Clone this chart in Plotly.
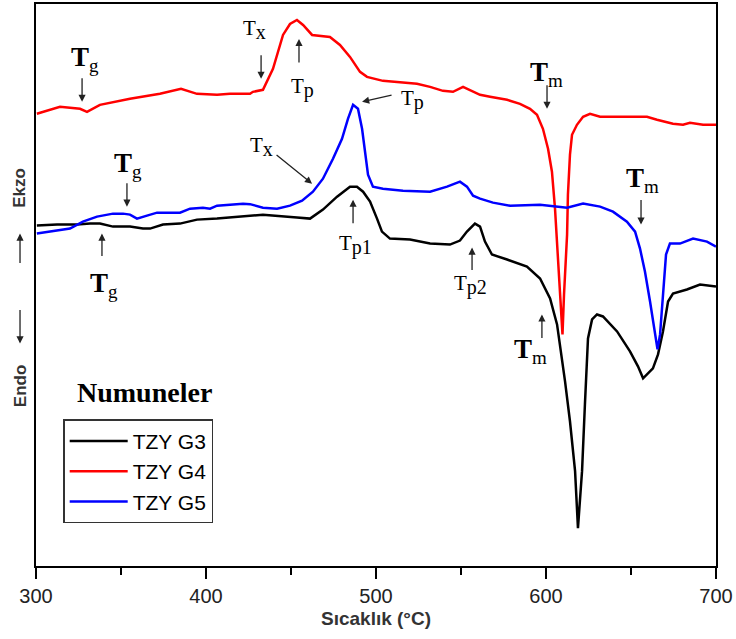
import plotly.graph_objects as go

# DTA curves: temperature (°C) and relative heat-flow signal (arbitrary units)
g3_temp = [300.5, 312.4, 324.1, 331.8, 337.6, 345.3, 355.3, 362.9, 367.1, 374.7, 384.7, 394.7,
           406.5, 421.8, 433.5, 453.5, 461.2, 468.8, 477.1, 484.7, 488.8, 492.4, 496.5, 500.6,
           503.5, 508.2, 520.0, 531.8, 543.5, 549.4, 553.5, 558.2, 561.2, 564.1, 568.2, 577.1,
           588.8, 596.5, 602.4, 606.5, 608.2, 611.2, 614.1, 617.1, 618.8, 621.2, 622.9, 624.7,
           627.1, 630.0, 633.5, 641.8, 649.4, 654.1, 657.1, 662.9, 665.9, 668.8, 671.8, 674.7,
           682.9, 690.6, 700.0]
g3_signal = [34.1, 34.2, 34.2, 34.3, 34.3, 34.0, 34.0, 33.8, 33.8, 34.2, 34.3, 34.7,
             34.8, 35.0, 35.2, 34.9, 34.8, 35.7, 37.0, 38.0, 38.0, 37.5, 36.5, 34.8,
             33.5, 32.8, 32.7, 32.3, 32.2, 32.6, 33.5, 34.3, 34.0, 32.5, 31.2, 30.7,
             30.0, 28.8, 26.8, 24.2, 22.2, 18.5, 14.5, 9.5, 3.8, 9.5, 16.2, 22.8,
             24.7, 25.2, 25.0, 23.5, 21.5, 20.0, 18.8, 19.8, 21.2, 23.5, 26.5, 27.3,
             27.7, 28.2, 28.0]

g4_temp = [300.5, 314.1, 325.9, 330.0, 337.6, 355.3, 372.9, 385.3, 394.7, 406.5, 414.1, 425.9,
           427.6, 433.5, 439.4, 445.3, 449.4, 453.5, 457.1, 462.4, 472.9, 478.8, 484.7, 490.6,
           494.7, 504.1, 524.1, 531.8, 539.4, 545.3, 551.2, 557.1, 561.2, 567.1, 577.1, 584.7,
           590.6, 594.7, 598.2, 601.2, 603.5, 605.3, 607.1, 608.8, 609.7, 610.6, 612.4, 612.9,
           614.1, 615.3, 618.2, 621.8, 625.9, 631.8, 659.4, 665.3, 674.7, 680.6, 684.7, 692.4,
           700.0]
g4_signal = [45.3, 46.0, 45.8, 45.5, 46.2, 46.8, 47.3, 47.8, 47.3, 47.2, 47.3, 47.3,
             47.5, 47.7, 49.8, 53.2, 54.3, 54.7, 54.2, 53.2, 53.0, 52.2, 51.0, 49.5,
             49.0, 48.6, 48.3, 48.0, 47.6, 47.5, 48.0, 47.5, 47.2, 47.0, 46.7, 46.3,
             45.8, 45.2, 43.8, 41.8, 39.5, 35.8, 30.5, 25.5, 23.2, 27.2, 33.2, 37.2,
             41.2, 43.2, 44.2, 45.0, 45.3, 45.0, 45.0, 44.7, 44.3, 44.2, 44.4, 44.2,
             44.2]

g5_temp = [300.5, 312.4, 320.0, 327.6, 335.9, 345.3, 351.2, 355.3, 359.4, 365.3, 371.2, 384.7,
           390.6, 398.2, 402.4, 406.5, 414.1, 421.8, 425.9, 433.5, 441.8, 449.4, 456.5, 462.9,
           468.8, 474.7, 480.0, 483.5, 486.5, 489.4, 491.8, 493.5, 495.3, 498.2, 504.1, 515.9,
           531.8, 541.8, 549.4, 553.5, 557.1, 561.2, 568.8, 578.8, 596.5, 612.4, 621.8, 631.8,
           639.4, 647.6, 652.4, 655.3, 658.2, 661.2, 664.1, 665.6, 667.1, 668.8, 670.6, 672.9,
           678.8, 686.5, 694.7, 700.0]
g5_signal = [33.3, 33.6, 33.8, 34.5, 35.0, 35.3, 35.3, 35.2, 34.8, 35.1, 35.4, 35.4,
             35.8, 35.9, 35.8, 36.1, 36.2, 36.3, 36.25, 35.9, 35.8, 36.1, 36.6, 37.5,
             38.8, 40.8, 42.8, 44.8, 46.2, 45.8, 43.8, 41.5, 39.2, 38.0, 37.8, 37.6,
             37.5, 38.0, 38.5, 38.0, 37.1, 36.8, 36.4, 36.1, 36.2, 35.9, 36.3, 36.0,
             35.5, 34.5, 33.5, 31.8, 29.5, 26.5, 23.2, 21.7, 23.2, 27.2, 31.2, 32.3,
             32.3, 32.8, 32.5, 32.0]

series_names = ["TZY G3", "TZY G4", "TZY G5"]
series_colors = ["#000000", "#ff0000", "#0000ff"]
x_ticks = [300, 400, 500, 600, 700]

SERIF = "Liberation Serif, Times New Roman, serif"
SANS = "Liberation Sans, Arial, sans-serif"

fig = go.Figure()
for name, color, xs, ys in zip(series_names, series_colors,
                               [g3_temp, g4_temp, g5_temp],
                               [g3_signal, g4_signal, g5_signal]):
    fig.add_trace(go.Scatter(x=xs, y=ys, mode="lines", name=name,
                             line=dict(color=color, width=2.5)))


def label(sym, sub, bold=False):
    if bold:
        return f"<b>{sym}</b><sub><span style='font-size:19px'>{sub}</span></sub>"
    return f"{sym}<sub><span style='font-size:20px'>{sub}</span></sub>"


# characteristic temperature labels: (subscript, bold T, x, y, font size)
labels = [
    ("g", True, 328.8, 50.8, 27),
    ("g", True, 354.1, 40.2, 27),
    ("g", True, 340.0, 28.2, 27),
    ("x", False, 428.8, 53.7, 21),
    ("p", False, 456.5, 47.9, 21),
    ("p", False, 521.2, 46.7, 21),
    ("x", False, 432.4, 42.0, 21),
    ("p1", False, 488.2, 32.2, 21),
    ("p2", False, 555.3, 28.2, 21),
    ("m", True, 600.0, 49.3, 27),
    ("m", True, 656.5, 38.7, 27),
    ("m", True, 590.6, 21.5, 27),
]
annotations = []
for sub, bold, x, y, size in labels:
    annotations.append(dict(x=x, y=y, xref="x", yref="y", text=label("T", sub, bold),
                            showarrow=False, font=dict(family=SERIF, size=size, color="#000")))

# pointer arrows: head position and tail offset in px
arrows = [
    (327.1, 46.5, 0, -25), (353.5, 36.0, 0, -25), (338.8, 33.3, 0, 24),
    (432.4, 48.8, 0, -25), (454.7, 52.8, 0, 25), (491.8, 46.5, 31, -7),
    (462.4, 38.3, -37, -30), (486.5, 36.7, 0, 25), (556.5, 31.9, 0, 24),
    (600.6, 45.8, 0, -25), (655.9, 34.2, 0, -26), (597.6, 25.2, 0, 25),
]
for x, y, ax, ay in arrows:
    annotations.append(dict(x=x, y=y, xref="x", yref="y", ax=ax, ay=ay, text="",
                            showarrow=True, arrowhead=2, arrowsize=1.1, arrowwidth=1.3,
                            arrowcolor="#222", standoff=0))

# exo / endo direction markers
annotations += [
    dict(x=-0.0235, y=0.673, xref="paper", yref="paper", text="<b>Ekzo</b>", textangle=-90,
         xanchor="center", yanchor="middle",
         showarrow=False, font=dict(family=SANS, size=17, color="#333")),
    dict(x=-0.0235, y=0.5915, xref="paper", yref="paper", ax=0, ay=31, text="",
         showarrow=True, arrowhead=2, arrowsize=1.1, arrowwidth=1.3, arrowcolor="#222"),
    dict(x=-0.0235, y=0.320, xref="paper", yref="paper", text="<b>Endo</b>", textangle=-90,
         xanchor="center", yanchor="middle",
         showarrow=False, font=dict(family=SANS, size=17, color="#333")),
    dict(x=-0.0235, y=0.396, xref="paper", yref="paper", ax=0, ay=-35, text="",
         showarrow=True, arrowhead=2, arrowsize=1.1, arrowwidth=1.3, arrowcolor="#222"),
    dict(x=0.160, y=0.309, xref="paper", yref="paper", text="<b>Numuneler</b>",
         xanchor="center", yanchor="middle",
         showarrow=False, font=dict(family=SERIF, size=28, color="#000")),
]

fig.update_layout(
    width=736, height=639,
    margin=dict(l=36, r=20, t=2, b=73),
    paper_bgcolor="white", plot_bgcolor="white",
    annotations=annotations,
    showlegend=True,
    legend=dict(x=0.040, y=0.261, xanchor="left", yanchor="top",
                bordercolor="#333", borderwidth=1.5, bgcolor="white",
                font=dict(family=SANS, size=21, color="#000"), itemwidth=58),
    xaxis=dict(range=[300, 700], tickvals=x_ticks, ticks="outside", ticklen=11, tickwidth=2,
               tickcolor="#000", showline=True, linecolor="#000", linewidth=2, mirror=True,
               showgrid=False, zeroline=False,
               tickfont=dict(family=SANS, size=20, color="#222"),
               minor=dict(dtick=50, tick0=350, ticks="outside", ticklen=7, tickwidth=2,
                          tickcolor="#000", showgrid=False),
               title=dict(text="<b>Sıcaklık (°C)</b>", standoff=6,
                          font=dict(family=SANS, size=19, color="#333"))),
    yaxis=dict(range=[0, 56.3], showticklabels=False, ticks="", showline=True,
               linecolor="#000", linewidth=2, mirror=True, showgrid=False, zeroline=False),
)

fig.write_html("out.html")
